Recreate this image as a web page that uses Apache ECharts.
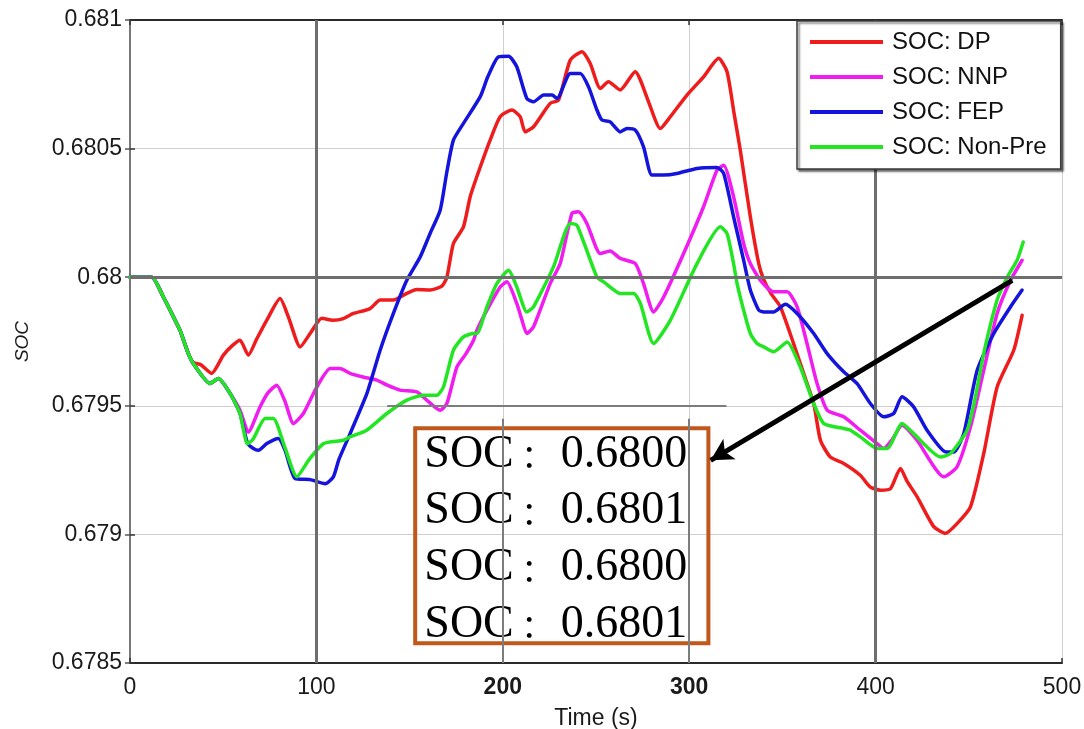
<!DOCTYPE html>
<html>
<head>
<meta charset="utf-8">
<script src="https://cdn.jsdelivr.net/npm/echarts@6/dist/echarts.min.js"></script>
<style>
  html, body { margin: 0; padding: 0; background: #fff; }
  #chart { width: 1084px; height: 729px; }
</style>
</head>
<body>
<div id="chart"></div>
<script>
// Series names, as shown in the legend
const seriesNames = ['SOC: DP', 'SOC: NNP', 'SOC: FEP', 'SOC: Non-Pre'];
const seriesColors = ['#ee1c1c', '#f01cf0', '#1414dc', '#22e622'];

// [time (s), SOC]
const socDP = [
  [0,0.68],[11.6,0.68],[17.9,0.679923],[23.3,0.679846],[26.8,0.679794],[31.3,0.679703],[34,0.679668],
  [38,0.67966],[43.8,0.679626],[50.1,0.679697],[55,0.679735],[59,0.679755],[63.5,0.679697],[68,0.67976],
  [73.4,0.679833],[80.5,0.679917],[85,0.679845],[91.3,0.679729],[97,0.679785],[102.9,0.67984],[109,0.679833],
  [114,0.679838],[119.9,0.679859],[128.8,0.679878],[134.2,0.679911],[141.3,0.679911],[148.5,0.679937],
  [153.9,0.679952],[161,0.67995],[167.3,0.679965],[170,0.68],[173.5,0.680131],[178.9,0.680196],
  [182.5,0.680313],[187,0.68041],[193.2,0.680533],[198.6,0.680624],[204.9,0.68065],[209.3,0.680624],
  [212,0.680565],[216.5,0.680585],[225.4,0.680676],[229.9,0.680689],[236.2,0.680844],[242.5,0.680877],
  [246.9,0.680831],[252.3,0.680734],[256.7,0.68076],[263,0.680728],[271.1,0.680799],[273.8,0.680767],
  [278.2,0.680682],[284.5,0.680578],[289.9,0.680624],[298.8,0.680708],[307.7,0.680779],[315.8,0.680851],
  [320.3,0.680799],[324,0.68064],[327.4,0.680494],[332.8,0.680235],[337.3,0.680053],[340,0.67999],
  [344,0.679935],[348.9,0.679885],[356,0.679742],[361.4,0.679626],[366.8,0.679509],[370.4,0.679366],
  [375.7,0.679301],[382.9,0.679276],[391.8,0.67923],[397,0.679185],[402.6,0.679172],[408,0.679178],
  [413.3,0.679256],[417,0.679205],[422.3,0.679146],[431.2,0.67903],[437.5,0.679004],[443.7,0.679042],
  [450.9,0.679107],[458,0.679314],[465.2,0.679573],[474.1,0.679716],[478.6,0.679852]
];

const socNNP = [
  [0,0.68],[11.6,0.68],[17.9,0.679923],[23.3,0.679846],[26.8,0.679794],[31.3,0.679703],[34,0.679664],
  [42.9,0.679587],[47.4,0.679606],[53.7,0.679548],[59,0.679483],[63.5,0.679398],[69.8,0.679496],
  [74,0.67955],[78.7,0.67958],[83,0.67952],[87.7,0.679431],[93,0.67947],[100,0.67957],[107.4,0.679645],
  [112.7,0.679645],[118.1,0.679626],[125,0.679612],[132.4,0.6796],[138,0.67958],[144.9,0.679561],
  [153.9,0.679554],[159.2,0.679522],[166.4,0.679483],[170,0.679509],[175.4,0.679651],[180,0.6797],
  [184.3,0.679755],[186.1,0.679794],[191.5,0.679872],[198.6,0.679962],[202.2,0.679982],[207.5,0.679898],
  [210,0.67984],[212.9,0.679781],[216.5,0.679807],[225.4,0.679975],[230.8,0.680053],[237.1,0.680248],
  [240.6,0.680254],[245.1,0.680209],[252.3,0.680092],[257.6,0.680102],[263,0.680073],[271.1,0.680053],
  [275.5,0.679975],[280.9,0.679865],[286.3,0.679923],[297,0.680092],[307.7,0.680274],[314.9,0.680416],
  [318.5,0.680435],[323.8,0.680313],[329.2,0.680131],[332.8,0.680053],[338.2,0.679988],[345.3,0.679943],
  [352.5,0.679943],[357.9,0.679885],[363.2,0.679742],[368.6,0.679587],[374,0.679483],[382.9,0.679457],
  [391.8,0.679405],[400.8,0.679353],[404.3,0.679334],[409,0.67937],[414.2,0.679424],[422.2,0.679366],
  [436.6,0.679224],[443.7,0.679263],[450.9,0.679418],[458,0.679638],[465.2,0.679859],[472.4,0.679988],
  [478.6,0.680066]
];

const socFEP = [
  [0,0.68],[11.6,0.68],[17.9,0.679923],[23.3,0.679846],[26.8,0.679794],[31.3,0.679703],[34,0.679664],
  [42.9,0.679587],[47.4,0.679606],[53.7,0.679548],[59,0.67947],[63,0.679355],[66.2,0.679334],
  [68.9,0.679327],[73.4,0.679353],[79.6,0.679373],[83.2,0.679327],[88.6,0.679217],[96.6,0.679213],
  [104.7,0.679197],[109.1,0.679224],[112,0.67929],[118.1,0.679392],[127.1,0.679548],[134.2,0.679716],
  [141.3,0.679859],[148.5,0.679988],[155.7,0.680079],[161,0.68017],[166.4,0.68026],[170,0.68041],
  [173.5,0.680533],[178.9,0.680598],[187.9,0.680702],[192,0.68078],[197.7,0.680857],[203.1,0.680859],
  [207.5,0.680818],[212.9,0.680695],[216.5,0.680682],[221.9,0.680708],[226.4,0.680708],[229.1,0.680695],
  [236.2,0.680792],[241.6,0.680792],[246,0.68074],[250.5,0.68065],[253.2,0.680611],[257.6,0.680604],
  [263,0.680565],[266.6,0.680578],[271.1,0.680572],[275.5,0.680507],[280,0.680397],[286.2,0.680397],
  [293.4,0.680403],[304.2,0.680423],[314.9,0.680427],[318.5,0.680403],[323.8,0.680235],[329.2,0.680066],
  [332.8,0.67995],[337.3,0.679872],[340,0.679865],[345.3,0.679865],[351.6,0.679895],[357.9,0.679859],
  [366.8,0.679781],[374,0.679703],[382.9,0.679632],[390,0.679587],[397.2,0.679509],[404.3,0.679457],
  [409.7,0.67947],[414.2,0.679535],[420.4,0.679496],[427.6,0.679405],[437.5,0.679321],[442,0.67932],
  [447.3,0.679392],[454.5,0.679638],[463.4,0.679781],[472.4,0.679885],[478.6,0.67995]
];

const socNonPre = [
  [0,0.68],[11.6,0.68],[17.9,0.679923],[23.3,0.679846],[26.8,0.679794],[31.3,0.679703],[34,0.679664],
  [42.9,0.679587],[47.4,0.679606],[53.7,0.679548],[59,0.67947],[63,0.679352],[66,0.67937],[72.5,0.679451],
  [76.9,0.679451],[83,0.67934],[89.5,0.679224],[96,0.67929],[103.8,0.679353],[114.5,0.679366],
  [118,0.679379],[127,0.679405],[137.8,0.67947],[148.5,0.679522],[157.4,0.679541],[164.6,0.679541],
  [168.2,0.679574],[173.5,0.679716],[178.9,0.679768],[184.3,0.679781],[186.1,0.679781],[191.5,0.679885],
  [196.8,0.679975],[203.1,0.680027],[207.5,0.679962],[212.9,0.679865],[216.5,0.679885],[227.2,0.68004],
  [236.2,0.680209],[239.8,0.680202],[250.5,0.68],[254.1,0.679982],[263,0.679937],[270.2,0.679937],
  [273.8,0.679898],[280.9,0.679742],[289.9,0.679833],[304.2,0.680053],[316.7,0.680196],[320.3,0.68017],
  [323.8,0.680053],[325.7,0.679975],[329.2,0.679872],[332.8,0.679781],[336.4,0.679742],[340,0.679729],
  [345.3,0.67971],[352.5,0.679748],[359.6,0.679651],[366.8,0.679509],[372.2,0.679431],[382.9,0.679412],
  [386.5,0.679405],[391.8,0.679379],[400.8,0.679334],[406.2,0.679334],[414.2,0.679431],[420.4,0.679392],
  [434.8,0.679301],[440.1,0.679314],[449.1,0.679405],[453.6,0.679535],[458,0.679703],[465.2,0.679911],
  [470.6,0.68],[475.9,0.680066],[479.2,0.680137]
];

// Axes
const xMin = 0, xMax = 500, xStep = 100;
const xTickLabels = ['0', '100', '200', '300', '400', '500'];
const yMin = 0.6785, yMax = 0.681, yStep = 0.0005;
const yTickLabels = ['0.6785', '0.679', '0.6795', '0.68', '0.6805', '0.681'];

// Callout box text and where the arrow points from/to
const boxLabel = 'SOC';
const boxValues = ['0.6800', '0.6801', '0.6800', '0.6801'];
const boxCorners = [[153, 0.679413], [310.3, 0.678577]];
const arrowFrom = [473.3, 0.679988];
const arrowTo = [311.5, 0.679288];

const allSeries = [socDP, socNNP, socFEP, socNonPre];

const chart = echarts.init(document.getElementById('chart'), null, { renderer: 'canvas' });

const strongGrid = { color: '#6e6e6e', width: 3, type: 'solid' };
const midGrid = { color: '#7d7d7d', width: 2, type: 'solid' };

const lineSeries = allSeries.map((d, i) => ({
  name: seriesNames[i],
  type: 'line',
  data: d,
  symbol: 'none',
  smooth: 0.2,
  z: 3,
  lineStyle: { color: seriesColors[i], width: 3.5, cap: 'round', join: 'round' },
  itemStyle: { color: seriesColors[i] },
  emphasis: { disabled: true },
  animation: false
}));

// Heavier grid lines drawn as mark lines beneath the curves
const gridSeries = {
  name: 'grid',
  type: 'line',
  data: [],
  z: 1,
  silent: true,
  animation: false,
  markLine: {
    silent: true,
    symbol: ['none', 'none'],
    label: { show: false },
    animation: false,
    data: [
      { xAxis: 100, lineStyle: strongGrid },
      { xAxis: 400, lineStyle: strongGrid },
      { yAxis: 0.6805, lineStyle: strongGrid },
      { yAxis: 0.68, lineStyle: strongGrid },
      [{ coord: [200, yMin], lineStyle: midGrid }, { coord: [200, 0.67945] }],
      [{ coord: [300, yMin], lineStyle: midGrid }, { coord: [300, 0.67945] }],
      [{ coord: [138, 0.6795], lineStyle: midGrid }, { coord: [320, 0.6795] }]
    ]
  }
};

const boxText = boxValues.map(v => `{s|${boxLabel}}{c|：}{s|${v}}`).join('\n');

const calloutSeries = {
  name: 'callout',
  type: 'line',
  data: [],
  z: 5,
  silent: true,
  animation: false,
  markArea: {
    silent: true,
    animation: false,
    itemStyle: { color: 'rgba(0,0,0,0)', borderColor: '#c0581c', borderWidth: 4 },
    label: {
      show: true,
      position: 'inside',
      offset: [-6, 4],
      formatter: boxText,
      rich: {
        s: { fontFamily: 'Liberation Serif', fontSize: 46, color: '#000', lineHeight: 56.7 },
        c: {
          fontFamily: 'Noto Sans CJK SC', fontSize: 32, color: '#000', lineHeight: 56.7,
          width: 47, align: 'left', verticalAlign: 'bottom', padding: [0, 0, 12, 0]
        }
      }
    },
    data: [[{ coord: boxCorners[0] }, { coord: boxCorners[1] }]]
  },
  markLine: {
    silent: true,
    animation: false,
    symbol: ['none', 'arrow'],
    symbolSize: [18, 22],
    label: { show: false },
    lineStyle: { color: '#000', width: 5, type: 'solid' },
    data: [[{ coord: arrowFrom }, { coord: arrowTo }]]
  }
};

const labelFont = { fontFamily: 'Liberation Sans', color: '#1a1a1a' };

const option = {
  animation: false,
  backgroundColor: '#fff',
  grid: { left: 130, right: 22, top: 20, bottom: 66, show: false, containLabel: false, outerBoundsMode: 'none' },
  legend: {
    data: seriesNames,
    orient: 'vertical',
    left: 797,
    top: 21,
    width: 265,
    padding: [9, 14, 10, 13],
    itemWidth: 73,
    itemHeight: 4,
    itemGap: 11,
    backgroundColor: '#fff',
    borderColor: '#3a3a3a',
    borderWidth: 1.5,
    borderRadius: 0,
    shadowColor: 'rgba(0,0,0,0.55)',
    shadowBlur: 2,
    shadowOffsetX: 2,
    shadowOffsetY: 2,
    selectedMode: false,
    z: 10,
    icon: 'rect',
    textStyle: { fontFamily: 'Liberation Sans', fontSize: 24, color: '#111', lineHeight: 24, padding: [0, 0, 0, 4] }
  },
  xAxis: [
    {
      type: 'value',
      min: xMin, max: xMax, interval: xStep,
      name: 'Time (s)',
      nameLocation: 'middle',
      nameGap: 44,
      nameTextStyle: { ...labelFont, fontSize: 23 },
      axisLine: { show: true, lineStyle: { color: '#2a2a2a', width: 2 } },
      axisTick: { show: true, inside: true, length: 5, lineStyle: { color: '#333', width: 1.5 } },
      axisLabel: {
        margin: 13,
        ...labelFont,
        fontSize: 23,
        formatter: v => {
          const i = Math.round((v - xMin) / xStep);
          return (i === 2 || i === 3) ? `{b|${xTickLabels[i]}}` : xTickLabels[i];
        },
        rich: { b: { fontFamily: 'Liberation Sans', fontSize: 23, fontWeight: 'bold', color: '#1a1a1a' } }
      },
      splitLine: { show: true, lineStyle: { color: '#cfcfcf', width: 1 } }
    },
    {
      type: 'value',
      position: 'top',
      min: xMin, max: xMax, interval: xStep,
      axisLine: { show: true, lineStyle: { color: '#2a2a2a', width: 2 } },
      axisTick: { show: true, inside: true, length: 5, lineStyle: { color: '#333', width: 1.5 } },
      axisLabel: { show: false },
      splitLine: { show: false }
    }
  ],
  yAxis: [
    {
      type: 'value',
      min: yMin, max: yMax, interval: yStep,
      name: 'SOC',
      nameLocation: 'middle',
      nameGap: 98,
      nameTextStyle: { ...labelFont, fontSize: 19, fontStyle: 'italic' },
      axisLine: { show: true, lineStyle: { color: '#2a2a2a', width: 2 } },
      axisTick: { show: true, inside: true, length: 5, lineStyle: { color: '#333', width: 1.5 } },
      axisLabel: {
        margin: 8,
        ...labelFont,
        fontSize: 23,
        padding: [4, 0, 0, 0],
        formatter: v => yTickLabels[Math.round((v - yMin) / yStep)]
      },
      splitLine: { show: true, lineStyle: { color: '#cfcfcf', width: 1 } }
    },
    {
      type: 'value',
      position: 'right',
      min: yMin, max: yMax, interval: yStep,
      axisLine: { show: true, lineStyle: { color: '#777', width: 2 } },
      axisTick: { show: true, inside: true, length: 5, lineStyle: { color: '#555', width: 1.5 } },
      axisLabel: { show: false },
      splitLine: { show: false }
    }
  ],
  series: [gridSeries, ...lineSeries, calloutSeries]
};

chart.setOption(option);
</script>
</body>
</html>
